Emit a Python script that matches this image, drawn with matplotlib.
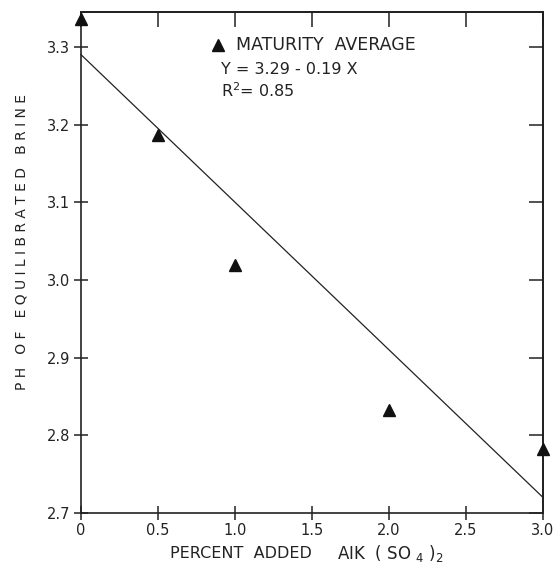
import numpy as np
import matplotlib.pyplot as plt

# maturity average points
pct_added = [0.0, 0.5, 1.0, 2.0, 3.0]
ph_brine = [3.336, 3.186, 3.019, 2.832, 2.782]

# regression Y = 3.29 - 0.19X
fit_a = 3.29
fit_b = -0.19

x_ticks = [0, 0.5, 1.0, 1.5, 2.0, 2.5, 3.0]
x_tick_labels = ["0", "0.5", "1.0", "1.5", "2.0", "2.5", "3.0"]
y_ticks = [2.7, 2.8, 2.9, 3.0, 3.1, 3.2, 3.3]

plt.rcParams['font.family'] = ['DejaVu Sans']
ink = '#222222'

fig = plt.figure(figsize=(5.53, 5.69), dpi=100)
ax = fig.add_axes([0.1465, 0.0984, 0.8355, 0.8806])

xf = np.array([0.0, 3.0])
ax.plot(xf, fit_a + fit_b * xf, color=ink, lw=0.9, clip_on=False)
ax.plot(pct_added, ph_brine, linestyle='none', marker='^', ms=8,
        color='#111111', clip_on=False, zorder=5)

ax.set_xlim(0, 3.0)
ax.set_ylim(2.7, 3.345)
ax.set_xticks(x_ticks)
ax.set_xticklabels(x_tick_labels)
ax.set_yticks(y_ticks)
ax.set_yticklabels(["%.1f" % v for v in y_ticks])

for s in ax.spines.values():
    s.set_linewidth(1.2)
    s.set_color(ink)

ax.tick_params(axis='both', direction='inout', length=10, width=1.1,
               labelsize=10.5, colors=ink, top=False, right=False)
ax.tick_params(axis='x', pad=2)
ax.tick_params(axis='y', pad=3)

# top and right ticks point inward only
top = ax.secondary_xaxis('top')
top.set_xticks(x_ticks)
top.tick_params(direction='in', length=11, width=1.1, labeltop=False, colors=ink)
top.spines['top'].set_linewidth(1.2)
right = ax.secondary_yaxis('right')
right.set_yticks(y_ticks)
right.tick_params(direction='in', length=10, width=1.1, labelright=False, colors=ink)
right.spines['right'].set_linewidth(1.2)

# x label drawn in two pieces to match the wide lettering
ax.text(0.192, -0.08, "PERCENT  ADDED", transform=ax.transAxes,
        fontsize=11.5, color=ink, ha='left', va='center')
ax.text(0.554, -0.08, "AIK  ( SO $_{\\mathregular{4}}$ )$_{\\mathregular{2}}$",
        transform=ax.transAxes, fontsize=12, color=ink,
        ha='left', va='center')
ax.text(-0.128, 0.54, "P H   O F   E Q U I L I B R A T E D   B R I N E",
        transform=ax.transAxes, fontsize=10, color=ink,
        ha='center', va='center', rotation=90)

ax.plot([0.297], [0.934], transform=ax.transAxes, marker='^', ms=8,
        color='#111111', linestyle='none')
ax.text(0.335, 0.934, "MATURITY  AVERAGE", transform=ax.transAxes,
        fontsize=12.5, va='center', color=ink)
ax.text(0.303, 0.886, "Y = 3.29 - 0.19 X", transform=ax.transAxes,
        fontsize=11.5, va='center', color=ink)
ax.text(0.303, 0.842, "R$^{2}$= 0.85", transform=ax.transAxes,
        fontsize=11.5, va='center', color=ink)

fig.savefig("out.png", dpi=100)
